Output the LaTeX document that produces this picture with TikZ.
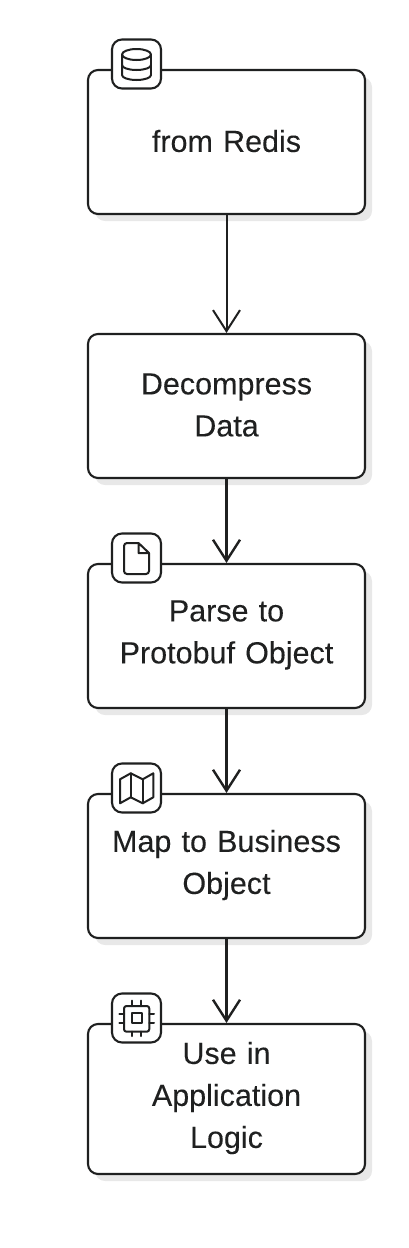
\documentclass[tikz,border=0pt]{standalone}
\usepackage{fontspec}
\setmainfont{Liberation Sans}[WordSpace=0.75,FakeBold=0.12]
\usepackage{xcolor}
\usepackage{tikz}
\usetikzlibrary{arrows.meta,shadows}
\definecolor{flow@ink}{RGB}{31,32,32}
\definecolor{flow@shadow}{RGB}{232,232,232}

\begin{document}
\begin{tikzpicture}[
  x=1pt,y=-1pt,
  stage/.style={rectangle,rounded corners=10pt,draw=flow@ink,fill=white,line width=2.1pt,
    minimum width=277pt,text width=262pt,align=center,inner sep=0pt,text=flow@ink,
    font=\fontsize{30.5}{42}\selectfont,execute at end node={\endgraf\kern2pt},
    drop shadow={shadow xshift=7pt,shadow yshift=-7pt,fill=flow@shadow,opacity=1}},
  badge/.style={rectangle,rounded corners=10pt,draw=flow@ink,fill=white,line width=2.1pt,
    minimum width=49pt,minimum height=49pt,inner sep=0pt},
  flow/.style={-{Straight Barb[length=21pt,width=27pt]},flow@ink,line width=2.4pt},
  glyph/.style={flow@ink,line width=2pt,line join=round,line cap=round}
]
\useasboundingbox (0,0) rectangle (408,1248);

\node[stage,minimum height=144pt] (redis) at (226.5,142) {from Redis};
\node[stage,minimum height=144pt] (decomp) at (226.5,406) {Decompress\\Data};
\node[stage,minimum height=144pt] (parse) at (226.5,636) {Parse to\\Protobuf Object};
\node[stage,minimum height=144pt] (map) at (226.5,866) {Map to Business\\Object};
\node[stage,minimum height=150pt] (use) at (226.5,1099) {Use in\\Application\\Logic};

\draw[flow,line width=2pt] (redis.south) -- (decomp.north);
\draw[flow] (decomp.south) -- (parse.north);
\draw[flow] (parse.south) -- (map.north);
\draw[flow] (map.south) -- (use.north);

\node[badge] (badgeredis) at (136.5,64) {};
\node[badge] (badgeparse) at (136.5,558) {};
\node[badge] (badgemap) at (136.5,788) {};
\node[badge] (badgeuse) at (136.5,1018) {};

% database
\begin{scope}[glyph,shift={(badgeredis.center)}]
  \draw (0,-9.5) ellipse [x radius=14.5,y radius=5.5];
  \draw (-14.5,-9.5) -- (-14.5,11) arc [start angle=180,end angle=360,x radius=14.5,y radius=-5];
  \draw (14.5,11) -- (14.5,-9.5);
  \draw (-14.5,1) arc [start angle=180,end angle=360,x radius=14.5,y radius=-5];
\end{scope}
% file
\begin{scope}[glyph,shift={(badgeparse.center)}]
  \draw[rounded corners=3pt] (2,-15) -- (-12.5,-15) -- (-12.5,16) -- (12.5,16) -- (12.5,-5);
  \draw (2,-15) -- (12.5,-5) -- (2,-5) -- cycle;
\end{scope}
% map
\begin{scope}[glyph,shift={(badgemap.center)}]
  \draw (-16.5,-8.7) -- (-5.8,-14.7) -- (6.2,-8.7) -- (16.8,-14.7) -- (16.8,9.3)
    -- (6.2,15.3) -- (-5.8,9.3) -- (-16.5,15.3) -- cycle;
  \draw (-5.8,-14.7) -- (-5.8,9.3);
  \draw (6.2,-8.7) -- (6.2,15.3);
\end{scope}
% chip
\begin{scope}[glyph,shift={(badgeuse.center)}]
  \draw[rounded corners=2.5pt] (-12.5,-12) rectangle (12.8,13.7);
  \draw (-5,-4.7) rectangle (5,5.3);
  \foreach \pinx in {-4.7,4.7} {
    \draw (\pinx,-17.3) -- (\pinx,-12);
    \draw (\pinx,13.7) -- (\pinx,18);
  }
  \foreach \piny in {-3.7,5.3} {
    \draw (-17.2,\piny) -- (-12.5,\piny);
    \draw (12.8,\piny) -- (17.5,\piny);
  }
\end{scope}
\end{tikzpicture}
\end{document}
